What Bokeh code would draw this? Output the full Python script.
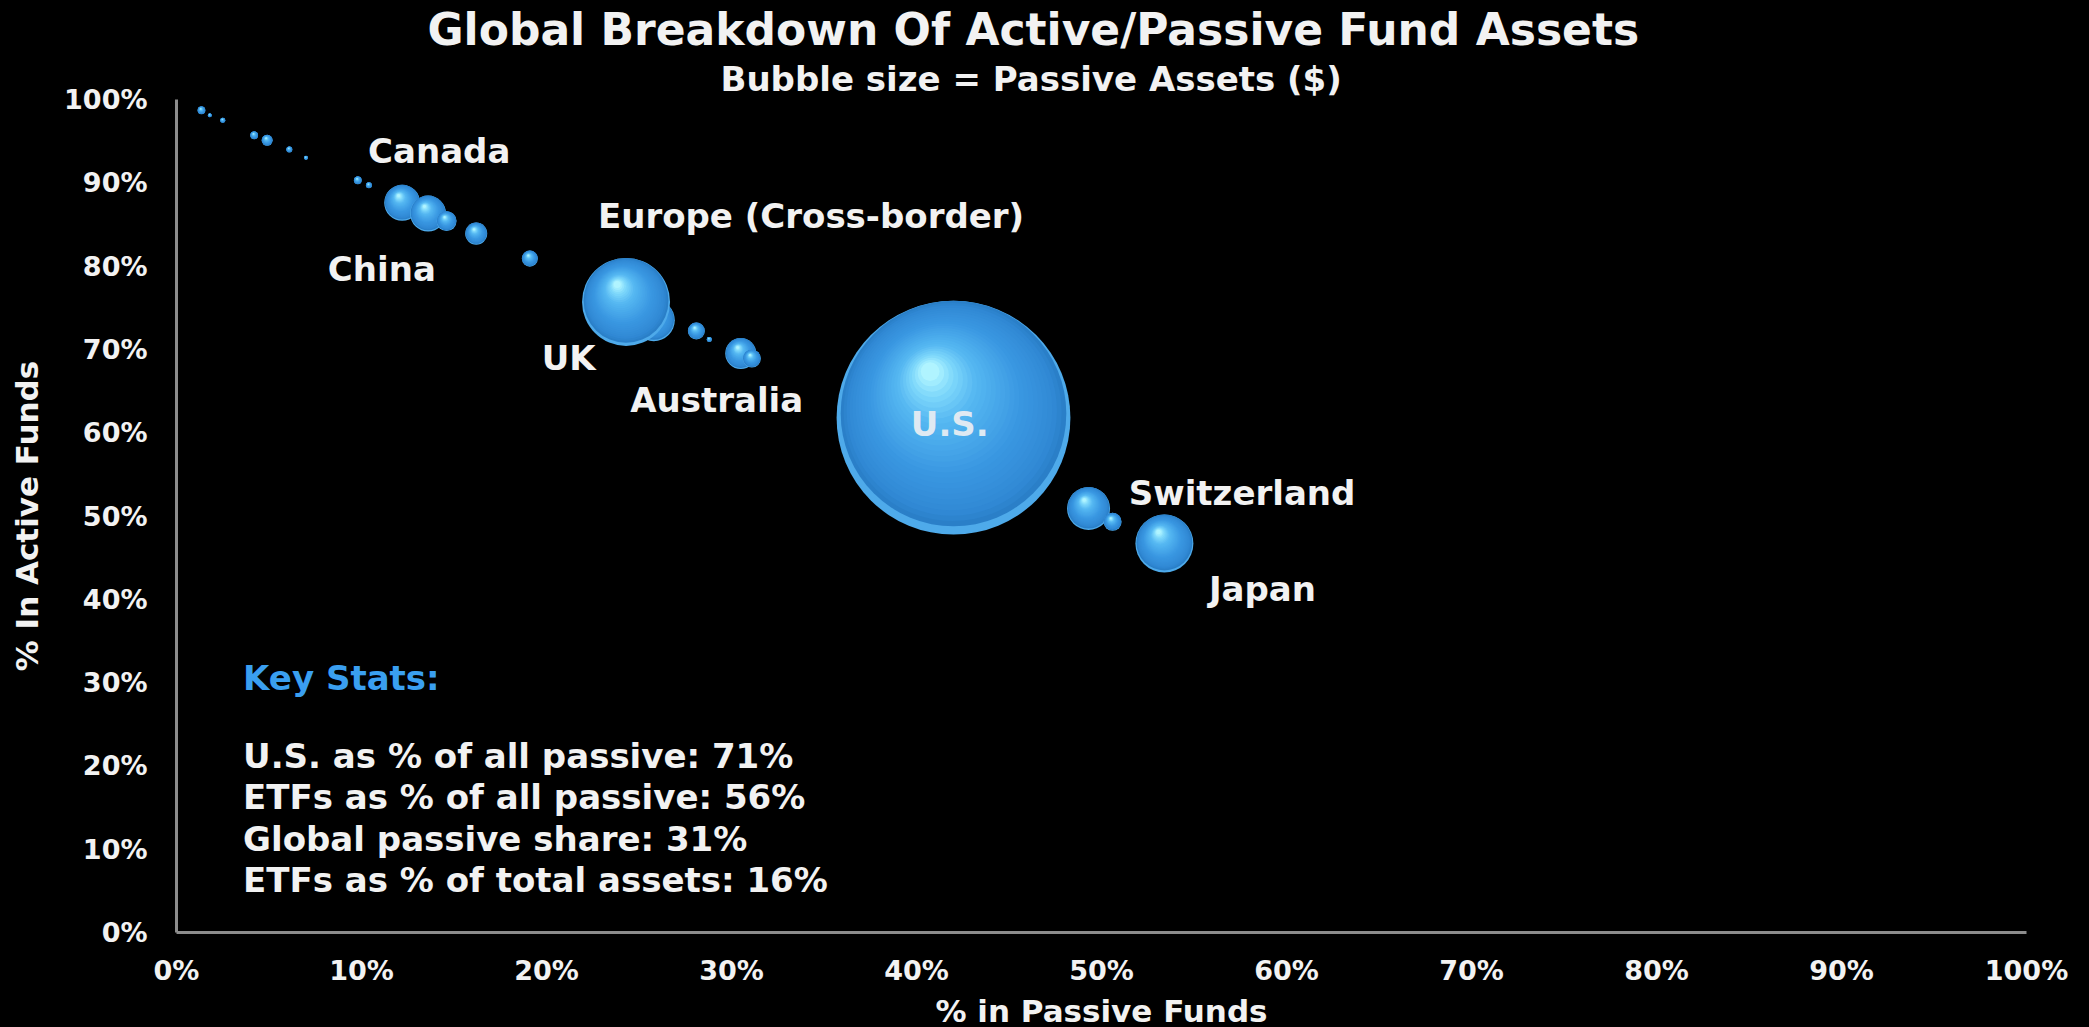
import math
from bokeh.plotting import figure
from bokeh.models import Range1d, FixedTicker, Label, ColumnDataSource, Title
from bokeh.embed import file_html
from bokeh.resources import INLINE

# ---------------- data ----------------
passive_pct = [1.35, 1.8, 2.5, 4.2, 4.9, 6.1, 7.0, 9.8, 10.4, 12.2, 13.6, 14.6,
               16.2, 19.1, 25.8, 24.3, 28.1, 28.8, 30.5, 31.1, 42.0, 49.3, 50.6, 53.4]
active_pct = [98.7, 98.1, 97.5, 95.7, 95.1, 94.0, 93.0, 90.3, 89.7, 87.6, 86.3, 85.4,
              83.9, 80.9, 73.5, 75.7, 72.2, 71.2, 69.5, 68.9, 61.8, 50.9, 49.3, 46.7]
passive_assets_bn = [12, 3, 5, 12, 24, 7, 3, 12, 7, 256, 256, 79,
                     96, 51, 348, 1530, 57, 5, 190, 64, 10800, 365, 64, 664]

country_names = ["Canada", "China", "Europe (Cross-border)", "UK", "Australia",
                 "U.S.", "Switzerland", "Japan"]
country_label_x = [14.2, 11.1, 34.3, 21.2, 29.2, 41.8, 57.6, 58.7]
country_label_y = [93.8, 79.6, 86.0, 69.0, 63.9, 61.0, 52.8, 41.2]

tick_values = [0, 10, 20, 30, 40, 50, 60, 70, 80, 90, 100]
tick_labels = ["0%", "10%", "20%", "30%", "40%", "50%", "60%", "70%", "80%", "90%", "100%"]

title_text = "Global Breakdown Of Active/Passive Fund Assets"
subtitle_text = "Bubble size = Passive Assets ($)"
x_title = "% in Passive Funds"
y_title = "% In Active Funds"
stats_header = "Key Stats:"
stats_lines = ["U.S. as % of all passive: 71%",
               "ETFs as % of all passive: 56%",
               "Global passive share: 31%",
               "ETFs as % of total assets: 16%"]

# ---------------- layout / style ----------------
FRAME_W, FRAME_H = 1850, 833
PX_X = FRAME_W / 100.0
PX_Y = FRAME_H / 100.0
SIZE_K = 2.25          # px of diameter per sqrt($bn)
FONT = "DejaVu Sans"
TXT = "#f2f2f2"

p = figure(frame_width=FRAME_W, frame_height=FRAME_H,
           x_range=Range1d(0, 100), y_range=Range1d(0, 100),
           output_backend="svg", toolbar_location=None, title=None,
           min_border_left=176, min_border_right=60,
           min_border_top=99, min_border_bottom=94)
p.background_fill_color = "black"
p.border_fill_color = "black"
p.outline_line_color = None
p.grid.visible = False

for ax in (p.xaxis[0], p.yaxis[0]):
    ax.ticker = FixedTicker(ticks=tick_values)
    ax.major_label_overrides = {v: s for v, s in zip(tick_values, tick_labels)}
    ax.axis_line_color = "#8c8c8c"
    ax.axis_line_width = 3
    ax.major_tick_line_color = None
    ax.major_tick_out = 0
    ax.major_tick_in = 0
    ax.minor_tick_line_color = None
    ax.minor_tick_out = 0
    ax.major_label_text_font = FONT
    ax.major_label_text_font_style = "bold"
    ax.major_label_text_font_size = "27px"
    ax.major_label_text_color = TXT
    ax.axis_label_text_font = FONT
    ax.axis_label_text_font_style = "bold"
    ax.axis_label_text_font_size = "31px"
    ax.axis_label_text_color = TXT
p.xaxis[0].major_label_standoff = 22
p.yaxis[0].major_label_standoff = 29
p.xaxis[0].axis_label = x_title
p.yaxis[0].axis_label = y_title
p.xaxis[0].axis_label_standoff = 4
p.yaxis[0].axis_label_standoff = 16

p.add_layout(Title(text=subtitle_text, text_font=FONT, text_font_style="bold",
                   text_font_size="34px", text_color=TXT, align="left",
                   offset=544, standoff=2), "above")
p.add_layout(Title(text=title_text, text_font=FONT, text_font_style="bold",
                   text_font_size="44px", text_color=TXT, align="left",
                   offset=251, standoff=2), "above")


def hex2rgb(h):
    h = h.lstrip("#")
    return [int(h[i:i + 2], 16) for i in (0, 2, 4)]


stops = [(0.0, "#2a7fc8"), (0.08, "#3189d5"), (0.35, "#3a98e2"),
         (0.7, "#56b8f2"), (0.88, "#80d9fb"), (1.0, "#b0f4ff")]


def shade(t):
    for (t0, c0), (t1, c1) in zip(stops[:-1], stops[1:]):
        if t <= t1:
            a = (t - t0) / (t1 - t0) if t1 > t0 else 0
            r0, r1 = hex2rgb(c0), hex2rgb(c1)
            return "#%02x%02x%02x" % tuple(int(round(r0[k] + (r1[k] - r0[k]) * a)) for k in range(3))
    return stops[-1][1]


N = 28
for xv, yv, av in zip(passive_pct, active_pct, passive_assets_bn):
    d = SIZE_K * math.sqrt(av)
    r = d / 2.0
    # light reflected rim at the bottom of each sphere
    xs, ys, ss, cs = [xv], [yv], [d], ["#4eaaea"]
    for j in range(N):
        t = j / (N - 1)
        f = 0.965 - 0.885 * t
        xs.append(xv + (-0.20 * r * t) / PX_X)
        ys.append(yv + (0.035 * r + 0.36 * r * t) / PX_Y)
        ss.append(d * f)
        cs.append(shade(t))
    src = ColumnDataSource(dict(x=xs, y=ys, size=ss, color=cs))
    p.scatter("x", "y", size="size", fill_color="color", line_color=None, source=src)

for name, lx, ly in zip(country_names, country_label_x, country_label_y):
    col = "#dfe9f2" if name == "U.S." else TXT
    p.add_layout(Label(x=lx, y=ly, text=name, text_font=FONT, text_font_style="bold",
                       text_font_size="34px", text_color=col, text_align="center",
                       text_baseline="middle"))

p.add_layout(Label(x=3.6, y=30.5, text=stats_header, text_font=FONT, text_font_style="bold",
                   text_font_size="34px", text_color="#3a9ff0", text_align="left",
                   text_baseline="middle"))
for i, line in enumerate(stats_lines):
    p.add_layout(Label(x=3.6, y=21.2 - 4.97 * i, text=line, text_font=FONT,
                       text_font_style="bold", text_font_size="34px", text_color=TXT,
                       text_align="left", text_baseline="middle"))

html = file_html(p, INLINE, title="Global Breakdown Of Active/Passive Fund Assets")
html = html.replace("<head>", "<head><style>html,body{background:#000;}</style>", 1)
open("out.html", "w").write(html)
